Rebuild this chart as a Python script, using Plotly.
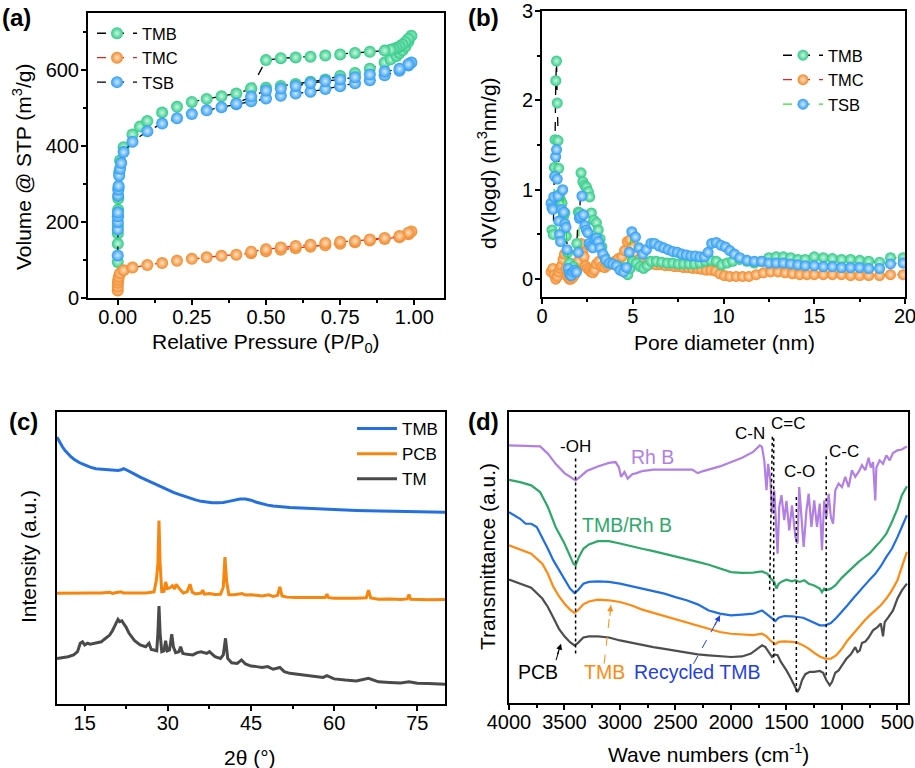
import plotly.graph_objects as go

# ---------------- (a) N2 isotherms ----------------
a_p_tmb = [0.0002, 0.0004, 0.0006, 0.0008, 0.001, 0.0015, 0.002, 0.003, 0.005, 0.008, 0.02, 0.05, 0.075, 0.1,
           0.15, 0.2, 0.25, 0.3, 0.35, 0.4, 0.45, 0.5, 0.55, 0.6, 0.65, 0.7, 0.75, 0.8, 0.85, 0.9, 0.92, 0.94,
           0.95, 0.96, 0.97, 0.98, 0.99,
           0.98, 0.97, 0.96, 0.95, 0.94, 0.93, 0.92, 0.9, 0.85, 0.8, 0.75, 0.7, 0.65, 0.6, 0.55, 0.5, 0.45]
a_v_tmb = [95, 143, 170, 190, 215, 232, 262, 290, 330, 362, 397, 430, 451, 466,
           488, 503, 516, 524, 531, 538, 550, 553, 558, 563, 569, 575, 584, 592, 603, 620, 628, 637,
           645, 652, 662, 675, 690,
           682, 674, 667, 662, 658, 655, 653, 651, 648, 645, 641, 638, 635, 633, 631, 626, 552]
a_p_tmc = [0.0002, 0.0005, 0.001, 0.002, 0.004, 0.008, 0.02, 0.05, 0.1, 0.15, 0.2, 0.25, 0.3, 0.35, 0.4,
           0.45, 0.5, 0.55, 0.6, 0.65, 0.7, 0.75, 0.8, 0.85, 0.9, 0.95, 0.98, 0.99,
           0.98, 0.95, 0.9, 0.85, 0.8, 0.75, 0.7, 0.65, 0.6, 0.55, 0.5, 0.45]
a_v_tmc = [20, 30, 40, 48, 56, 65, 73, 80, 87, 92, 98, 103, 107, 111, 114,
           118, 123, 127, 131, 135, 139, 143, 147, 151, 155, 160, 168, 175,
           172, 163, 158, 154, 150, 148, 145, 140, 137, 133, 128, 122]
a_p_tsb = [0.0002, 0.0004, 0.0006, 0.0008, 0.001, 0.0015, 0.002, 0.003, 0.005, 0.008, 0.012, 0.02, 0.05,
           0.1, 0.15, 0.2, 0.25, 0.3, 0.35, 0.4, 0.45, 0.5, 0.55, 0.6, 0.65, 0.7, 0.75, 0.8, 0.85, 0.9,
           0.95, 0.98, 0.99,
           0.98, 0.95, 0.9, 0.85, 0.8, 0.75, 0.7, 0.65, 0.6, 0.55, 0.5, 0.45, 0.4]
a_v_tsb = [112, 180, 200, 215, 225, 270, 285, 295, 322, 340, 355, 384, 411,
           439, 459, 473, 484, 494, 502, 510, 518, 525, 532, 538, 543, 550, 557, 565, 573, 586,
           598, 612, 620,
           615, 603, 596, 588, 581, 575, 571, 566, 558, 551, 546, 530, 512]
a_xticks = [0.0, 0.25, 0.5, 0.75, 1.0]
a_xticklabels = ["0.00", "0.25", "0.50", "0.75", "1.00"]

# ---------------- (b) pore size distribution ----------------
b_d_tmb = [0.55, 0.62, 0.68, 0.72, 0.76, 0.8, 0.84, 0.88, 0.92, 0.97, 1.03, 1.1, 1.18, 1.26, 1.34, 1.42,
           1.52, 1.62, 1.72, 1.82, 1.92, 2.0, 2.08, 2.15, 2.25, 2.35, 2.45, 2.55, 2.63, 2.72, 2.85, 3.0,
           3.1, 3.2, 3.3, 3.45, 3.65, 3.9, 4.15, 4.4, 4.6, 4.72, 4.85, 5.0, 5.2, 5.4, 5.6, 5.8, 6.0, 6.3,
           6.6, 6.9, 7.2, 7.5, 7.8, 8.1, 8.4, 8.7, 9.0, 9.3, 9.6, 9.9, 10.2, 10.5, 10.9, 11.3, 11.7,
           12.1, 12.5, 12.9, 13.3, 13.7, 14.1, 14.5, 15.0, 15.5, 16.0, 16.5, 17.0, 17.5, 18.0, 18.6,
           19.2, 19.9]
b_v_tmb = [0.55, 0.5, 1.25, 1.56, 2.22, 2.44, 1.97, 1.55, 1.24, 0.95, 0.88, 0.85, 0.7, 0.74, 0.48, 0.3,
           0.18, 0.12, 0.14, 0.1, 0.4, 0.75, 0.74, 1.19, 1.09, 1.05, 1.03, 0.98, 0.92, 0.74, 0.66, 0.63,
           0.55, 0.45, 0.36, 0.25, 0.18, 0.17, 0.15, 0.13, 0.08, 0.05, 0.12, 0.2, 0.18, 0.14, 0.12, 0.15,
           0.2, 0.2, 0.19, 0.18, 0.18, 0.17, 0.17, 0.17, 0.17, 0.18, 0.2, 0.21, 0.2, 0.16, 0.18, 0.2,
           0.22, 0.2, 0.18, 0.2, 0.24, 0.25, 0.25, 0.24, 0.22, 0.22, 0.25, 0.24, 0.23, 0.22, 0.22, 0.21,
           0.2, 0.19, 0.24, 0.24]
b_d_tmc = [0.5, 0.6, 0.68, 0.76, 0.84, 0.92, 1.0, 1.08, 1.16, 1.24, 1.32, 1.4, 1.5, 1.6, 1.7, 1.8, 1.9,
           2.0, 2.08, 2.16, 2.24, 2.32, 2.4, 2.5, 2.6, 2.7, 2.8, 2.9, 3.0, 3.15, 3.3, 3.45, 3.6, 3.8, 4.0,
           4.2, 4.4, 4.55, 4.7, 4.85, 5.0, 5.15, 5.35, 5.55, 5.8, 6.05, 6.3, 6.55, 6.8, 7.05, 7.3, 7.55,
           7.8, 8.05, 8.3, 8.55, 8.8, 9.05, 9.3, 9.55, 9.8, 10.05, 10.35, 10.7, 11.05, 11.4, 11.8, 12.2,
           12.6, 13.0, 13.4, 13.8, 14.2, 14.6, 15.0, 15.5, 16.0, 16.5, 17.0, 17.5, 18.0, 18.6, 19.2, 19.9]
b_v_tmc = [0.08, 0.12, 0.05, 0.0, 0.03, 0.08, 0.12, 0.15, 0.22, 0.28, 0.12, 0.03, 0.0, 0.0, 0.02, 0.05,
           0.1, 0.2, 0.35, 0.4, 0.3, 0.25, 0.15, 0.12, 0.1, 0.08, 0.07, 0.1, 0.17, 0.2, 0.14, 0.13, 0.15,
           0.18, 0.2, 0.23, 0.25, 0.32, 0.42, 0.44, 0.36, 0.28, 0.22, 0.2, 0.18, 0.17, 0.16, 0.16, 0.15,
           0.15, 0.14, 0.14, 0.13, 0.13, 0.12, 0.12, 0.11, 0.1, 0.1, 0.09, 0.06, 0.04, 0.03, 0.03, 0.03,
           0.03, 0.05, 0.07, 0.08, 0.08, 0.07, 0.06, 0.05, 0.05, 0.05, 0.05, 0.05, 0.05, 0.04, 0.04, 0.04,
           0.04, 0.05, 0.05]
b_d_tsb = [0.5, 0.55, 0.6, 0.65, 0.7, 0.75, 0.8, 0.84, 0.88, 0.92, 0.97, 1.02, 1.08, 1.14, 1.2, 1.26,
           1.32, 1.38, 1.45, 1.52, 1.6, 1.7, 1.8, 1.9, 2.0, 2.06, 2.12, 2.2, 2.28, 2.36, 2.44, 2.52, 2.6,
           2.7, 2.8, 2.9, 3.0, 3.1, 3.2, 3.35, 3.5, 3.7, 3.9, 4.1, 4.3, 4.5, 4.65, 4.8, 4.95, 5.15, 5.35,
           5.55, 5.75, 6.0, 6.2, 6.45, 6.7, 6.95, 7.2, 7.45, 7.7, 7.95, 8.2, 8.45, 8.7, 8.95, 9.15, 9.35,
           9.6, 9.85, 10.1, 10.35, 10.6, 10.9, 11.3, 11.7, 12.1, 12.5, 12.9, 13.3, 13.7, 14.1, 14.5, 15.0,
           15.5, 16.0, 16.5, 17.0, 17.5, 18.0, 18.6, 19.2, 19.9]
b_v_tsb = [0.85, 0.8, 0.78, 0.92, 1.15, 1.37, 1.45, 1.12, 0.93, 0.65, 0.5, 0.42, 0.78, 1.0, 0.75, 0.62,
           0.58, 0.33, 0.12, 0.06, 0.04, 0.08, 0.1, 0.08, 0.3, 0.68, 0.7, 0.93, 0.72, 0.6, 0.55, 0.52, 0.4,
           0.37, 0.35, 0.45, 0.46, 0.42, 0.35, 0.28, 0.22, 0.18, 0.17, 0.15, 0.1, 0.08, 0.13, 0.3, 0.53,
           0.47, 0.35, 0.28, 0.33, 0.4, 0.4, 0.37, 0.35, 0.33, 0.31, 0.3, 0.28, 0.27, 0.26, 0.26, 0.25,
           0.25, 0.3, 0.4, 0.41, 0.38, 0.36, 0.32, 0.28, 0.24, 0.21, 0.2, 0.2, 0.18, 0.18, 0.18, 0.17,
           0.16, 0.15, 0.15, 0.14, 0.14, 0.13, 0.13, 0.13, 0.12, 0.12, 0.17, 0.18]

# ---------------- (c) XRD ----------------
c_x_tmb = [10, 10.5, 11, 11.5, 12, 12.5, 13, 14, 15, 16, 17, 18, 19, 20, 21, 21.6, 22, 22.4, 23, 24, 25,
           26, 27, 28, 29, 30, 31, 32, 33, 34, 35, 36, 37, 38, 39, 40, 41, 42, 43, 44, 45, 46, 47, 48, 49,
           50, 52, 54, 56, 58, 60, 62, 64, 66, 68, 70, 72, 74, 76, 78, 80]
c_y_tmb = [91.4, 89.5, 88.0, 86.7, 85.6, 84.7, 83.9, 82.7, 81.9, 81.1, 80.6, 80.4, 80.3, 80.2, 80.0, 80.2,
           80.6, 80.3, 79.6, 78.7, 77.7, 76.8, 75.9, 75.0, 74.1, 73.3, 72.5, 71.8, 71.1, 70.5, 69.9, 69.4,
           69.1, 68.9, 68.9, 69.0, 69.4, 69.9, 70.2, 70.2, 69.8, 69.1, 68.5, 68.1, 67.8, 67.6, 67.3, 67.1,
           66.9, 66.7, 66.6, 66.4, 66.3, 66.2, 66.1, 66.0, 65.9, 65.9, 65.8, 65.8, 65.7]
c_x_pcb = [10, 12, 14, 16, 18, 19.5, 20, 21, 21.5, 22, 24, 26, 27.5, 27.9, 28.2, 28.4, 28.6, 28.9, 29.3,
           29.6, 29.9, 30.4, 30.8, 31.2, 31.5, 31.8, 32.2, 32.8, 33.5, 34.0, 34.4, 35, 36.0, 36.3, 36.6,
           37.5, 38.5, 39.5, 40.0, 40.3, 40.6, 41.0, 42, 43.4, 44, 45, 46, 47, 48.2, 49, 49.8, 50.2, 50.6,
           51.5, 53, 55, 57, 58.4, 58.7, 59.0, 60, 62, 64, 65.8, 66.2, 66.6, 68, 70, 72, 73.2, 73.5, 73.8,
           75, 77, 80]
c_y_pcb = [37.9, 38.0, 38.1, 38.0, 38.0, 38.3, 37.9, 38.2, 38.4, 38.0, 38.1, 38.0, 38.4, 42.0, 48.0, 62.8,
           48.0, 38.5, 38.6, 41.8, 39.5, 39.8, 40.5, 39.4, 41.0, 40.2, 39.2, 38.0, 38.5, 41.0, 38.3, 37.7,
           38.0, 39.0, 37.6, 37.8, 37.5, 37.6, 40.0, 50.3, 42.0, 37.4, 37.4, 37.8, 37.3, 37.4, 37.1, 37.0,
           37.4, 36.8, 37.2, 40.1, 37.0, 36.6, 36.5, 36.5, 36.3, 36.5, 37.6, 36.4, 36.2, 36.1, 36.2, 36.4,
           39.0, 36.3, 35.9, 36.0, 35.8, 36.0, 37.5, 35.9, 35.8, 35.7, 35.8]
c_x_tm = [10, 11, 12, 13, 13.7, 14.2, 14.6, 15, 15.5, 16, 17, 18, 18.5, 19, 19.5, 20, 20.5, 21, 21.3, 21.7,
          22, 22.5, 23, 23.5, 24, 25, 26, 26.6, 27, 27.5, 28.0, 28.2, 28.4, 28.6, 28.9, 29.3, 29.6, 29.9,
          30.3, 30.7, 31.0, 31.4, 32.0, 32.3, 32.7, 33.5, 34.5, 35.3, 36.0, 37.0, 37.5, 38.5, 39.5, 40.0,
          40.4, 40.8, 41.5, 42.5, 43.3, 44, 45, 46, 47, 48, 49, 50.2, 51, 52, 54, 56, 58, 58.7, 60, 62,
          64, 66.2, 68, 70, 72, 73.5, 75, 77, 80]
c_y_tm = [15.6, 15.8, 16.2, 16.8, 17.9, 20.8, 21.3, 20.2, 20.8, 20.5, 20.8, 21.3, 22.1, 22.8, 23.6, 25.1,
          27.0, 29.0, 28.2, 28.5, 27.6, 26.2, 24.2, 22.8, 21.7, 20.2, 19.6, 20.8, 18.7, 18.5, 18.2, 24.2,
          33.5, 24.2, 17.9, 18.2, 21.7, 18.2, 18.5, 23.9, 19.6, 17.6, 17.9, 19.6, 17.3, 17.0, 16.8, 17.6,
          17.9, 17.3, 17.9, 16.2, 15.6, 16.8, 22.5, 15.6, 14.1, 13.9, 15.1, 13.7, 13.0, 12.8, 12.5, 12.8,
          11.9, 12.5, 11.1, 10.5, 10.0, 9.6, 9.1, 9.7, 8.6, 8.2, 7.9, 8.8, 7.6, 7.4, 7.2, 7.6, 7.1, 7.0,
          6.8]

# ---------------- (d) FTIR ----------------
d_w_rhb = [4000, 3850, 3720, 3650, 3580, 3500, 3440, 3400, 3360, 3300, 3200, 3100, 3040, 3010, 2990, 2960,
           2930, 2890, 2850, 2800, 2700, 2500, 2350, 2300, 2250, 2100, 2000, 1900, 1800, 1740, 1720, 1700,
           1680, 1665, 1645, 1630, 1610, 1590, 1580, 1565, 1545, 1520, 1500, 1475, 1450, 1420, 1400, 1385,
           1365, 1345, 1320, 1300, 1275, 1250, 1225, 1200, 1180, 1160, 1140, 1120, 1100, 1080, 1060, 1030,
           1000, 970, 940, 910, 880, 850, 820, 790, 760, 740, 720, 700, 690, 660, 630, 600, 570, 540, 500,
           460, 415]
d_t_rhb = [88.5, 88.4, 88.2, 85.7, 82.2, 79.0, 77.4, 76.5, 77.7, 79.7, 81.3, 82.5, 82.8, 81.0, 77.7, 79.4,
           77.1, 78.6, 79.0, 79.7, 80.2, 80.2, 80.2, 79.0, 79.7, 81.3, 82.8, 84.3, 86.3, 88.5, 87.9, 83.4,
           73.1, 82.2, 76.5, 65.1, 73.1, 55.9, 51.3, 67.4, 71.4, 62.8, 69.5, 59.3, 67.9, 57.0, 54.8, 74.2,
           62.8, 53.6, 66.2, 71.9, 60.5, 69.6, 60.5, 68.5, 52.5, 69.6, 63.9, 71.9, 63.9, 61.6, 73.1, 75.4,
           74.2, 77.7, 74.2, 80.0, 77.7, 79.4, 81.7, 80.0, 84.3, 80.9, 82.8, 69.6, 80.9, 83.4, 82.2, 85.1,
           83.4, 85.9, 86.8, 87.1, 88.2]
d_w_tmbrhb = [4000, 3900, 3800, 3720, 3650, 3580, 3500, 3450, 3420, 3400, 3370, 3330, 3280, 3200, 3100,
              3000, 2900, 2800, 2700, 2600, 2500, 2400, 2300, 2200, 2100, 2000, 1900, 1800, 1720, 1670,
              1640, 1610, 1590, 1570, 1540, 1500, 1450, 1420, 1380, 1340, 1300, 1250, 1200, 1180, 1160,
              1130, 1100, 1060, 1000, 950, 900, 850, 800, 750, 700, 650, 600, 550, 500, 460, 415]
d_t_tmbrhb = [76.7, 75.9, 74.8, 72.5, 67.4, 60.5, 54.8, 50.2, 47.9, 47.3, 50.2, 53.0, 54.5, 55.6, 55.6,
              54.8, 53.8, 53.0, 52.2, 51.3, 50.4, 49.6, 48.5, 47.5, 46.2, 45.0, 44.7, 44.8, 45.2, 44.4,
              42.7, 41.6, 39.3, 41.0, 41.8, 42.4, 41.8, 42.2, 41.6, 42.2, 41.0, 40.4, 39.3, 38.1, 39.3,
              38.9, 39.3, 40.4, 43.1, 45.0, 46.7, 48.5, 50.0, 51.5, 53.6, 55.7, 58.2, 62.2, 66.8, 71.4, 74.5]
d_w_rec = [4000, 3900, 3850, 3800, 3750, 3700, 3650, 3600, 3550, 3500, 3450, 3410, 3380, 3330, 3280, 3200,
           3100, 3000, 2900, 2800, 2700, 2600, 2500, 2400, 2300, 2200, 2100, 2000, 1900, 1800, 1720, 1680,
           1640, 1600, 1570, 1520, 1450, 1400, 1350, 1300, 1250, 1200, 1150, 1100, 1050, 1000, 950, 900,
           850, 800, 750, 700, 650, 600, 550, 500, 460, 415]
d_t_rec = [65.6, 63.3, 61.6, 61.6, 60.5, 57.0, 53.0, 49.0, 45.6, 42.2, 39.3, 37.8, 38.7, 41.0, 41.6, 41.8,
           41.6, 41.0, 40.1, 39.3, 38.5, 37.6, 36.4, 35.3, 33.9, 31.8, 30.7, 30.1, 30.4, 30.7, 31.8, 30.7,
           29.3, 28.2, 29.3, 29.9, 29.8, 29.6, 29.3, 28.4, 27.5, 26.7, 26.7, 27.5, 29.3, 31.3, 33.6, 35.9,
           38.1, 40.4, 42.4, 44.4, 47.0, 50.2, 53.0, 57.0, 60.5, 64.5]
d_w_tmb = [4000, 3900, 3800, 3700, 3650, 3600, 3550, 3500, 3450, 3410, 3380, 3330, 3280, 3200, 3100, 3000,
           2900, 2800, 2700, 2600, 2500, 2400, 2300, 2200, 2100, 2000, 1900, 1800, 1720, 1680, 1640, 1600,
           1570, 1520, 1450, 1400, 1350, 1300, 1250, 1200, 1150, 1100, 1050, 1000, 950, 900, 850, 800,
           750, 700, 650, 600, 550, 500, 460, 415]
d_t_tmb = [54.2, 52.7, 51.3, 47.9, 44.4, 39.9, 36.7, 34.1, 32.1, 31.0, 31.8, 33.9, 34.9, 35.5, 35.3, 34.7,
           33.6, 32.1, 31.0, 30.1, 29.0, 27.8, 26.7, 25.5, 24.4, 23.8, 23.5, 23.3, 23.8, 22.9, 21.3, 20.2,
           21.0, 21.2, 21.0, 20.7, 19.8, 18.7, 17.2, 16.0, 15.2, 15.2, 16.4, 18.7, 21.5, 23.8, 26.1, 28.2,
           30.1, 31.8, 33.6, 35.9, 38.7, 42.2, 46.7, 51.9]
d_w_pcb = [4000, 3900, 3800, 3700, 3650, 3600, 3550, 3500, 3450, 3410, 3380, 3330, 3280, 3200, 3100, 3000,
           2900, 2800, 2700, 2600, 2500, 2400, 2300, 2200, 2100, 2000, 1900, 1820, 1760, 1720, 1690, 1660,
           1630, 1610, 1580, 1550, 1500, 1460, 1430, 1400, 1380, 1360, 1330, 1290, 1250, 1200, 1170, 1140,
           1110, 1090, 1060, 1030, 1000, 960, 920, 880, 860, 840, 820, 790, 760, 720, 680, 650, 630, 615,
           580, 540, 500, 460, 415]
d_t_pcb = [42.4, 41.0, 39.6, 35.9, 33.0, 29.3, 25.5, 22.9, 20.9, 19.8, 20.6, 22.5, 22.9, 22.9, 22.5, 21.5,
           20.7, 19.8, 19.2, 18.6, 17.9, 17.3, 16.7, 16.4, 16.0, 15.8, 16.0, 17.0, 18.7, 19.8, 19.2, 17.5,
           15.8, 16.7, 16.4, 14.1, 11.2, 8.4, 6.1, 3.8, 5.3, 7.8, 9.9, 10.7, 10.7, 11.0, 10.4, 7.8, 6.1,
           7.2, 10.4, 11.2, 12.9, 15.2, 16.7, 19.2, 17.5, 18.0, 20.6, 21.1, 22.5, 25.0, 26.1, 27.3, 22.9,
           27.8, 29.6, 31.8, 35.9, 38.7, 41.0]

# ---------------- styling ----------------
W, H = 915, 768
FONT = "Arial, 'Liberation Sans', sans-serif"
GREEN, ORANGE, BLUE = "#2ECB86", "#F28A2A", "#2B9CF2"


def px(x):
    return x / W


def py(y):
    return 1 - y / H


def sph(color, light, size):
    return dict(color=color, size=size, line=dict(width=0),
                gradient=dict(type="radial", color=light))


fig = go.Figure()

# (a)
for name, xs, ys, col, light, lc, rank in [
        ("TMB", a_p_tmb, a_v_tmb, GREEN, "#c9f5e1", "black", 1),
        ("TMC", a_p_tmc, a_v_tmc, ORANGE, "#fde0c2", "#e8241c", 2),
        ("TSB", a_p_tsb, a_v_tsb, BLUE, "#cfe8fd", "black", 3)]:
    fig.add_trace(go.Scatter(x=xs, y=ys, mode="lines+markers", name=name, legend="legend",
                             legendrank=rank, line=dict(color=lc, dash="dash", width=1.3),
                             marker=sph(col, light, 12), xaxis="x", yaxis="y"))
# (b)
for name, xs, ys, col, light, lc, rank in [
        ("TMC", b_d_tmc, b_v_tmc, ORANGE, "#fde0c2", "#e8241c", 2),
        ("TMB", b_d_tmb, b_v_tmb, GREEN, "#c9f5e1", "black", 1),
        ("TSB", b_d_tsb, b_v_tsb, BLUE, "#cfe8fd", "#2ee02e", 3)]:
    fig.add_trace(go.Scatter(x=xs, y=ys, mode="lines+markers", name=name, legend="legend2",
                             legendrank=rank, line=dict(color=lc, dash="dash", width=1.3),
                             marker=sph(col, light, 11), xaxis="x2", yaxis="y2"))
# (c)
for name, xs, ys, col in [("TMB", c_x_tmb, c_y_tmb, "#2470DE"),
                          ("PCB", c_x_pcb, c_y_pcb, "#F7860F"),
                          ("TM", c_x_tm, c_y_tm, "#4A4A4A")]:
    fig.add_trace(go.Scatter(x=xs, y=ys, mode="lines", name=name, legend="legend3",
                             line=dict(color=col, width=3), xaxis="x3", yaxis="y3"))
# (d)
for xs, ys, col in [(d_w_rhb, d_t_rhb, "#B27FE3"), (d_w_tmbrhb, d_t_tmbrhb, "#2EA86A"),
                    (d_w_rec, d_t_rec, "#1F6FE3"), (d_w_tmb, d_t_tmb, "#FF8A12"),
                    (d_w_pcb, d_t_pcb, "#4D4D4D")]:
    fig.add_trace(go.Scatter(x=xs, y=ys, mode="lines", showlegend=False,
                             line=dict(color=col, width=2.2), xaxis="x4", yaxis="y4"))

ax = dict(showline=True, linecolor="black", linewidth=2, mirror=True, ticks="outside", ticklen=5,
          tickwidth=1.5, tickcolor="black", showgrid=False, zeroline=False, automargin=False,
          ticklabeloverflow="allow", tickfont=dict(size=20, color="black", family=FONT))
xs_ = dict(ax, ticklabelstandoff=-5)
ys_ = dict(ax, ticklabelstandoff=-2)

fig.update_layout(
    template="none",
    width=W, height=H, margin=dict(l=0, r=0, t=0, b=0, pad=0), paper_bgcolor="white",
    plot_bgcolor="white", font=dict(family=FONT, color="black"),
    xaxis=dict(xs_, domain=[px(88), px(444)], range=[-0.1, 1.1], tickvals=a_xticks,
               ticktext=a_xticklabels, anchor="y",
               minor=dict(ticks="outside", ticklen=3, dtick=0.125, tick0=0, tickcolor="black")),
    yaxis=dict(ys_, domain=[py(298), py(13)], range=[0, 750], dtick=200, anchor="x",
               minor=dict(ticks="outside", ticklen=3, dtick=100, tickcolor="black")),
    xaxis2=dict(xs_, domain=[px(542), px(905)], range=[0, 20], dtick=5, anchor="y2",
                minor=dict(ticks="outside", ticklen=3, dtick=2.5, tickcolor="black")),
    yaxis2=dict(ys_, domain=[py(297), py(11)], range=[-0.2, 3], dtick=1, anchor="x2",
                minor=dict(ticks="outside", ticklen=3, dtick=0.5, tickcolor="black")),
    xaxis3=dict(xs_, domain=[px(57), px(445)], range=[10, 80], tick0=15, dtick=15, anchor="y3",
                minor=dict(ticks="outside", ticklen=3, dtick=7.5, tick0=0, tickcolor="black")),
    yaxis3=dict(ys_, domain=[py(704), py(412)], range=[0, 100], ticks="", showticklabels=False,
                anchor="x3"),
    xaxis4=dict(xs_, domain=[px(509), px(908)], range=[4000, 405], dtick=500, anchor="y4",
                minor=dict(ticks="outside", ticklen=3, dtick=250, tickcolor="black")),
    yaxis4=dict(ys_, domain=[py(703), py(412)], range=[0, 100], ticks="", showticklabels=False,
                anchor="x4"),
    legend=dict(x=px(92), y=py(16), xanchor="left", yanchor="top", bgcolor="rgba(0,0,0,0)",
                font=dict(size=16.5, color="black", family=FONT), itemwidth=40),
    legend2=dict(x=px(778), y=py(38), xanchor="left", yanchor="top", bgcolor="rgba(0,0,0,0)",
                 font=dict(size=16.5, color="black", family=FONT), itemwidth=40),
    legend3=dict(x=px(352), y=py(411), xanchor="left", yanchor="top", bgcolor="rgba(0,0,0,0)",
                 font=dict(size=17, color="black", family=FONT), itemwidth=40),
)

ann = []
# panel labels
for lab, x, y in [("(a)", 0, 2), ("(b)", 466, 2), ("(c)", 7, 406), ("(d)", 466, 406)]:
    ann.append(dict(text="<b>%s</b>" % lab, x=px(x), y=py(y), xref="paper", yref="paper",
                    xanchor="left", yanchor="top", showarrow=False, font=dict(size=24, color="black")))
# axis titles
TF = dict(size=21, color="black")
for txt, x, y, ang in [
        ("Relative Pressure (P/P<sub>0</sub>)", 266, 343, 0),
        ("Volume @ STP (m<sup>3</sup>/g)", 22, 167, -90),
        ("Pore diameter (nm)", 724, 343, 0),
        ("dV(logd) (m<sup>3</sup>nm/g)", 487, 163, -90),
        ("2θ (°)", 250, 757, 0),
        ("Intensity (a.u.)", 28, 557, -90),
        ("Wave numbers (cm<sup>-1</sup>)", 708, 753, 0),
        ("Transmittance (a.u.)", 487, 557, -90)]:
    ann.append(dict(text=txt, x=px(x), y=py(y), xref="paper", yref="paper", xanchor="center",
                    yanchor="middle", textangle=ang, showarrow=False, font=TF))
# FTIR labels
for txt, x, y, col, size in [
        ("-OH", 3400, 88.0, "black", 17), ("Rh B", 2710, 84.5, "#B27FE3", 19.5),
        ("TMB/Rh B", 2934, 61.0, "#2EA86A", 19.5), ("C-N", 1829, 92.6, "black", 17),
        ("C=C", 1486, 96.2, "black", 17), ("C-O", 1381, 79.4, "black", 17),
        ("C-C", 978, 86.3, "black", 17), ("PCB", 3740, 10.7, "black", 19.5),
        ("TMB", 3137, 10.7, "#FF8A12", 19.5), ("Recycled TMB", 2307, 10.7, "#1F3FE3", 19.5)]:
    ann.append(dict(text=txt, x=x, y=y, xref="x4", yref="y4", showarrow=False,
                    font=dict(size=size, color=col)))
# arrow heads
for x, y, axp, ayp, col in [(3531, 20.4, -4, 12, "black"), (3083, 33.6, -1, 12, "#FF8A12"),
                            (2098, 30.1, -6, 11, "#1F3FE3")]:
    ann.append(dict(text="", x=x, y=y, xref="x4", yref="y4", ax=axp, ay=ayp, showarrow=True,
                    arrowhead=2, arrowsize=1, arrowwidth=1.2, arrowcolor=col))
fig.update_layout(annotations=ann)

shapes = []
for x0, y0, x1, y1 in [(3400, 84, 3400, 17), (1627, 91.5, 1652, 38.6), (1615, 91, 1615, 12.9),
                       (1411, 70.8, 1411, 3.2), (1142, 84.8, 1142, 8.9)]:
    shapes.append(dict(type="line", x0=x0, y0=y0, x1=x1, y1=y1, xref="x4", yref="y4",
                       line=dict(color="black", width=1.5, dash="dot")))
for x0, y0, x1, y1, col in [(3576, 14.7, 3531, 20.4, "black"), (3143, 13.5, 3083, 33.6, "#FF8A12"),
                            (2337, 13.5, 2098, 30.1, "#1F3FE3")]:
    shapes.append(dict(type="line", x0=x0, y0=y0, x1=x1, y1=y1, xref="x4", yref="y4",
                       line=dict(color=col, width=1, dash="dash")))
fig.update_layout(shapes=shapes)

fig.write_html("out.html", config={"displayModeBar": False},
               post_script="document.body.style.margin='0';document.body.style.overflow='hidden';")
